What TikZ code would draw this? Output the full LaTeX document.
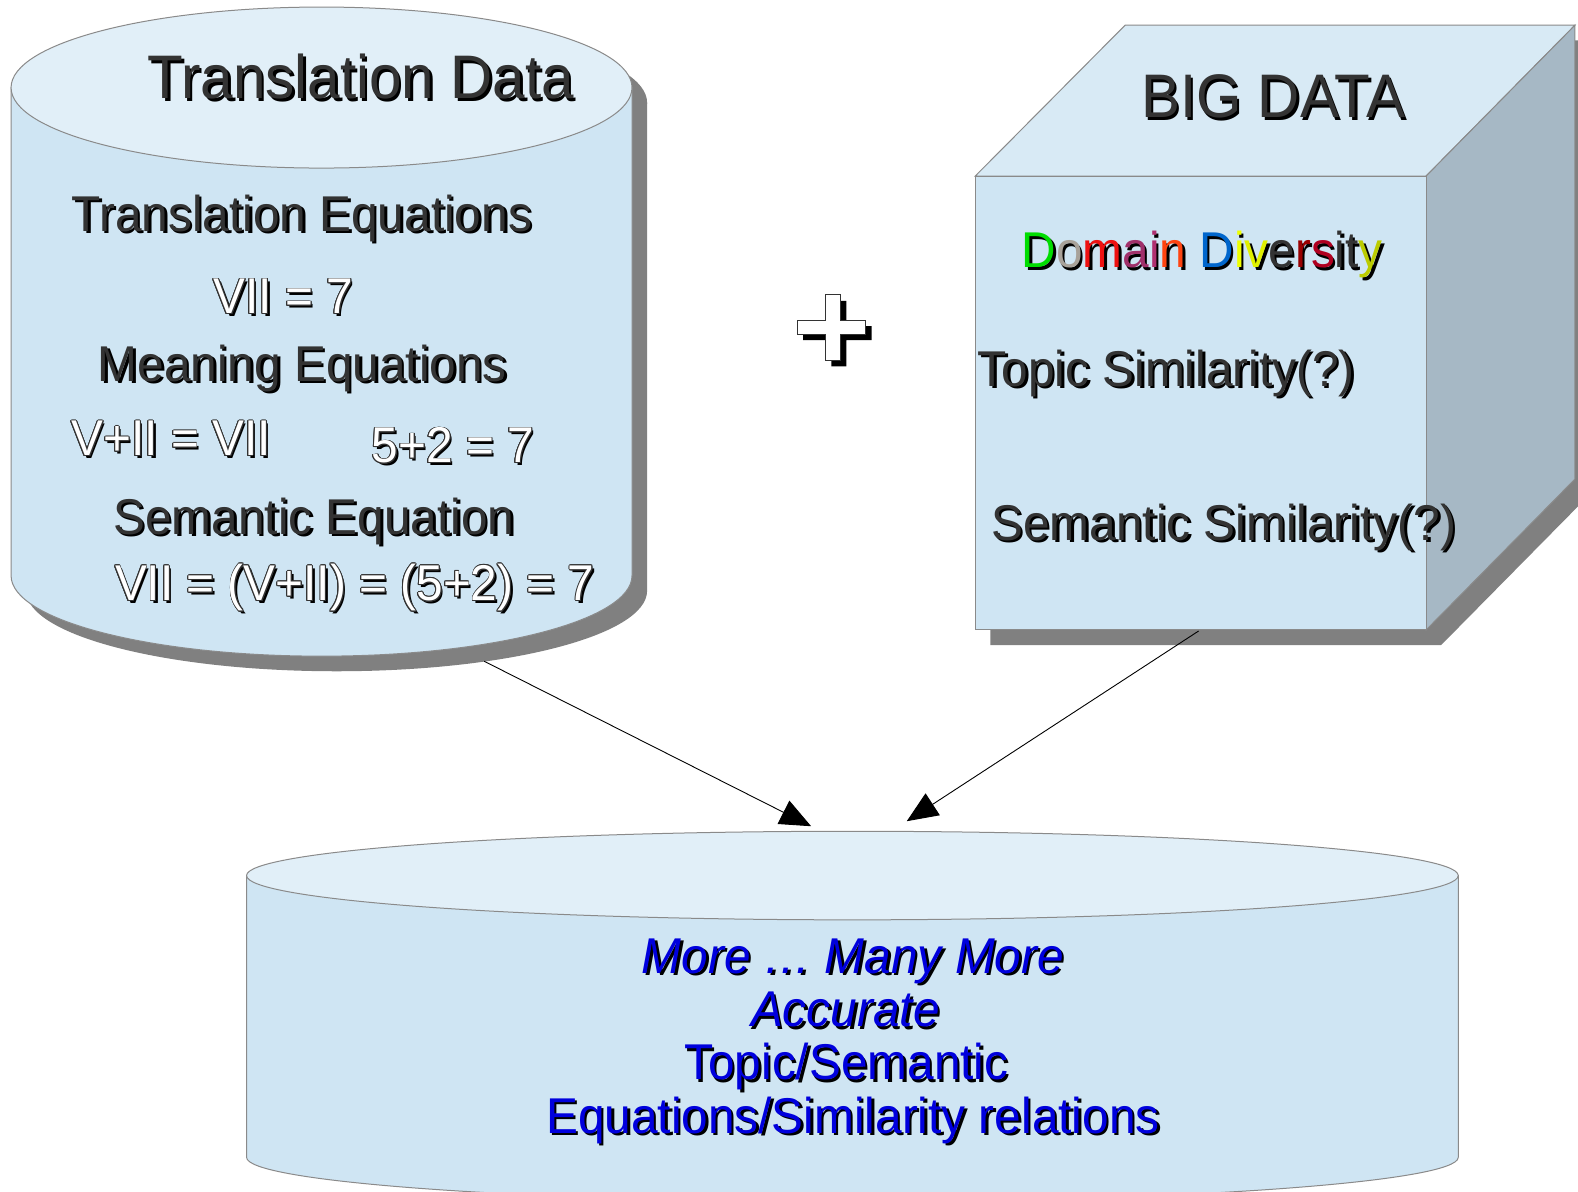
\documentclass[tikz,border=0pt]{standalone}
\usepackage{fontspec}
\setmainfont{Liberation Sans}[FakeStretch=0.95]
\usepackage{contour}
\contourlength{0.9pt}
\usetikzlibrary{arrows.meta}

\definecolor{cylside}{HTML}{CFE5F3}
\definecolor{cyltop}{HTML}{E1EFF8}
\definecolor{cubetop}{HTML}{D8EAF5}
\definecolor{cuberight}{HTML}{A6B8C5}
\definecolor{shadowgray}{HTML}{808080}
\definecolor{edgegray}{HTML}{8A8A8A}
\definecolor{txtdark}{HTML}{333333}
\definecolor{txtblue}{HTML}{0000DD}

% shadow pass: coloured letters and outlined letters become plain black
\newif\ifshpass
\newcommand\cl[2]{\ifshpass#2\else\textcolor[HTML]{#1}{#2}\fi}
\newcommand\outl[1]{\ifshpass#1\else\contour{txtdark}{\textcolor{white}{#1}}\fi}
% a label with a drop shadow: #1 name, #2 position, #3 style, #4 text
\newcommand\dropnode[4]{%
  \node[#3,dropsh] (#1-sh) at (#2) {#4};
  \node[#3] (#1) at (#2) {#4};}

\begin{document}
\begin{tikzpicture}[x=1.00638pt,y=-1.00638pt,
  lbl/.style={inner sep=0pt, anchor=base, text=txtdark, font=\fontsize{50.3}{60}\selectfont},
  title/.style={lbl, font=\fontsize{61.5}{70}\selectfont},
  bluelbl/.style={lbl, text=txtblue},
  blueit/.style={lbl, text=txtblue, font=\fontsize{50.3}{60}\selectfont\itshape},
  dropsh/.style={xshift=2.5pt, yshift=-2.5pt, text=black, execute at begin node=\shpasstrue},
  edge/.style={draw=edgegray, line width=1pt},
  conn/.style={line width=0.9pt, -{Triangle[length=31pt, width=26pt]}}]
\useasboundingbox (0,0) rectangle (1568,1184);
\fill[white] (0,0) rectangle (1568,1184);

% ---------- Translation data cylinder ----------
\fill[shadowgray] (26,102) -- (26,587)
  arc[start angle=180, end angle=0, x radius=308.5, y radius=80] -- (643,102) -- cycle;
\fill[shadowgray] (334.5,102) ellipse[x radius=308.5, y radius=80];
\path[fill=cylside, edge] (11,87) -- (11,572)
  arc[start angle=180, end angle=0, x radius=308.5, y radius=80] -- (628,87) -- cycle;
\path[fill=cyltop, edge] (319.5,87) ellipse[x radius=308.5, y radius=80];

% ---------- Big data cube ----------
\fill[shadowgray] (984,190) -- (1133,40) -- (1580,40) -- (1580,491) -- (1432,641) -- (984,641) -- cycle;
\path[fill=cubetop, edge] (969,175) -- (1118,25) -- (1565,25) -- (1417,175) -- cycle;
\path[fill=cuberight, edge] (1417,175) -- (1565,25) -- (1565,476) -- (1417,626) -- cycle;
\path[fill=cylside, edge] (969,175) rectangle (1417,626);

% ---------- Result cylinder ----------
\path[fill=cylside, edge] (245,870) -- (245,1150)
  arc[start angle=180, end angle=0, x radius=602, y radius=44] -- (1449,870) -- cycle;
\path[fill=cyltop, edge] (847,870) ellipse[x radius=602, y radius=44];

% ---------- plus sign ----------
\fill[black] (826,299) -- (841,299) -- (841,324) -- (866,324) -- (866,338) -- (841,338)
  -- (841,364) -- (826,364) -- (826,338) -- (798,338) -- (798,324) -- (826,324) -- cycle;
\path[fill=white, draw=txtdark, line width=1pt]
  (820,293) -- (835,293) -- (835,318) -- (860,318) -- (860,332) -- (835,332)
  -- (835,358) -- (820,358) -- (820,332) -- (792,332) -- (792,318) -- (820,318) -- cycle;

% ---------- connectors ----------
\coordinate (tdOut) at (481,657);
\coordinate (bdOut) at (1191,627);
\coordinate (resInL) at (806,821);
\coordinate (resInR) at (901,816);
\draw[conn] (tdOut) -- (resInL);
\draw[conn] (bdOut) -- (resInR);

% ---------- labels: translation data ----------
\dropnode{tdTitle}{358.5,98}{title}{Translation Data}
\dropnode{tdTrans}{300,230}{lbl}{Translation Equations}
\dropnode{tdVii}{281.5,312}{lbl}{\outl{VII = 7}}
\dropnode{tdMean}{300.5,379}{lbl}{Meaning Equations}
\dropnode{tdRoman}{170,453}{lbl}{\outl{V+II = VII}}
\dropnode{tdArab}{450,460}{lbl}{\outl{5+2 = 7}}
\dropnode{tdSem}{312,531}{lbl}{Semantic Equation}
\dropnode{tdChain}{352.5,597}{lbl}{\outl{VII = (V+II) = (5+2) = 7}}

% ---------- labels: big data ----------
\dropnode{bdTitle}{1265,117}{title}{BIG DATA}
\dropnode{bdDomain}{1194.5,266}{lbl}{\cl{00DD00}{D}\cl{A8A29A}{o}\cl{EE1111}{m}\cl{A0306A}{a}\cl{B03070}{i}\cl{FF4411}{n} \cl{0066CC}{D}\cl{EEFF00}{i}\cl{E0F000}{v}\cl{333333}{e}\cl{990000}{r}\cl{B00020}{s}\cl{333333}{i}\cl{333333}{t}\cl{BBCC00}{y}}
\dropnode{bdTopic}{1159,384}{lbl}{Topic Similarity(?)}
\dropnode{bdSem}{1216,537}{lbl}{Semantic Similarity(?)}

% ---------- labels: result ----------
\dropnode{resL1}{847.5,967}{blueit}{More … Many More}
\dropnode{resL2}{840,1020}{blueit}{Accurate}
\dropnode{resL3}{841,1073}{bluelbl}{Topic/Semantic}
\dropnode{resL4}{847.5,1126}{bluelbl}{Equations/Similarity relations}
\end{tikzpicture}
\end{document}
